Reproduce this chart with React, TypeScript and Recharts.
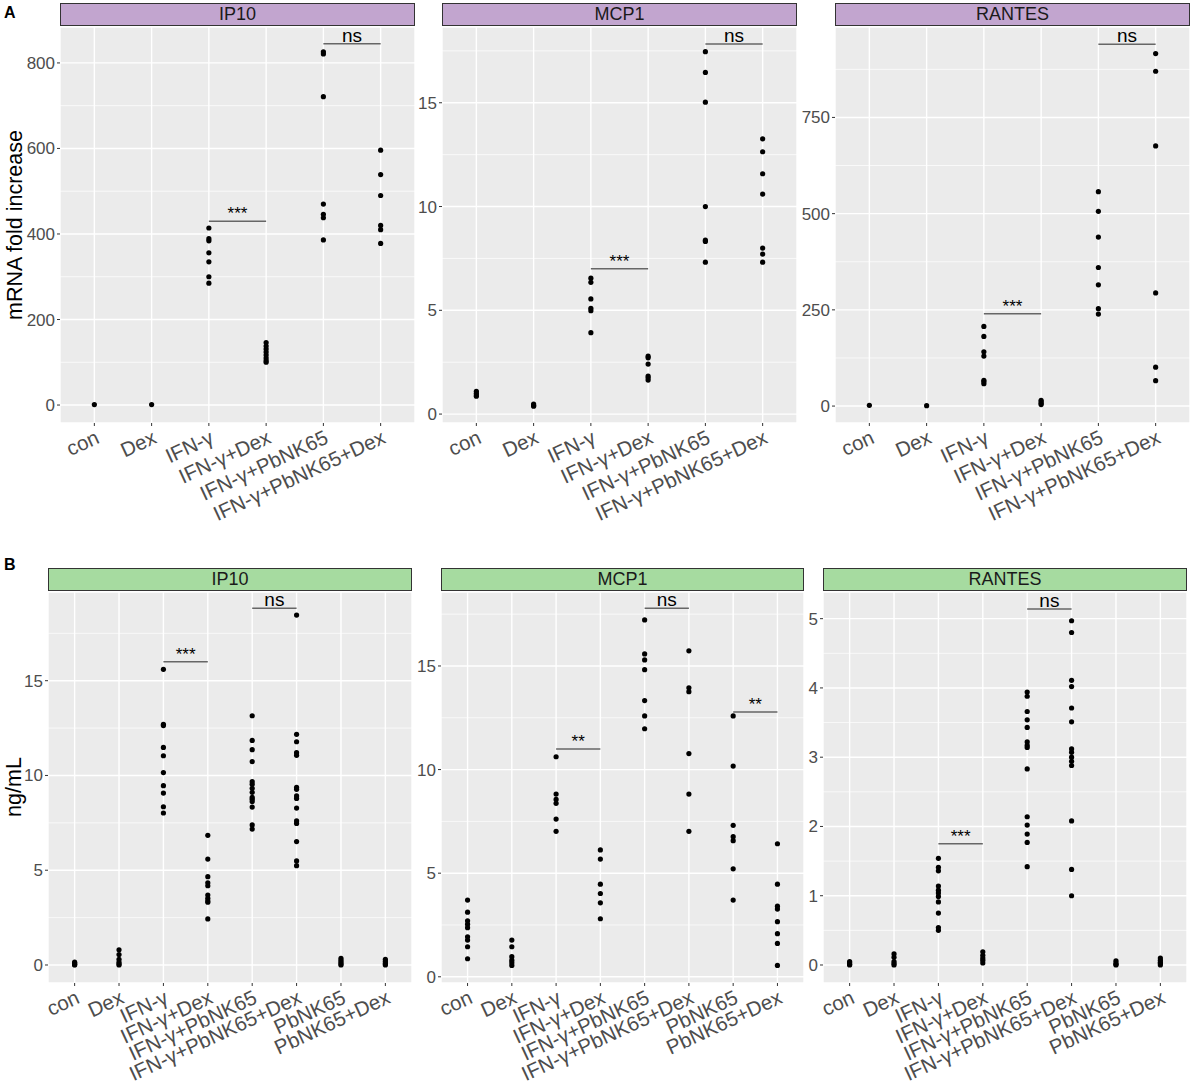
import { ScatterChart, Scatter, XAxis, YAxis, CartesianGrid, ReferenceLine } from 'recharts'

const FONT = '"Liberation Sans", Arial, sans-serif'
const PURPLE = '#C2A5CF'
const GREEN = '#A6DBA0'

// group labels
const catsA = ['con', 'Dex', 'IFN-γ', 'IFN-γ+Dex', 'IFN-γ+PbNK65', 'IFN-γ+PbNK65+Dex']
const catsB = [...catsA, 'PbNK65', 'PbNK65+Dex']

// A: mRNA fold increase, one list per group
const aIp10 = [
    [1],
    [1],
    [414, 389, 384, 356, 335, 300, 285],
    [146, 138, 131, 124, 117, 110, 104, 100],
    [826, 821, 721, 470, 446, 438, 386],
    [596, 539, 490, 420, 410, 378]
]
const aMcp1 = [
    [1.1, 1.0, 0.92, 0.86],
    [0.48, 0.42, 0.38],
    [6.55, 6.35, 5.55, 5.1, 4.98, 3.92],
    [2.79, 2.71, 2.41, 1.83, 1.75, 1.64],
    [17.46, 16.46, 15.03, 10.0, 8.38, 8.32, 7.32],
    [13.26, 12.64, 11.58, 10.6, 8.0, 7.71, 7.32]
]
const aRantes = [
    [2],
    [1],
    [207, 181, 141, 130, 67, 63, 58],
    [15, 11, 7, 4],
    [557, 506, 439, 360, 315, 253, 239],
    [916, 870, 676, 294, 101, 66]
]

// B: ng/mL
const bIp10 = [
    [0.15, 0.1, 0.05, 0.02, 0.0],
    [0.8, 0.55, 0.3, 0.15, 0.05, 0.0],
    [15.6, 12.7, 12.63, 11.48, 11.04, 10.15, 9.46, 9.07, 8.35, 8.02],
    [6.84, 5.59, 4.66, 4.34, 4.18, 3.69, 3.52, 3.39, 3.31, 2.43],
    [13.15, 11.85, 11.36, 10.73, 9.67, 9.53, 9.32, 9.11, 8.84, 8.74, 8.62, 8.33, 7.39, 7.17],
    [18.46, 12.17, 11.78, 11.2, 11.06, 9.37, 9.27, 8.92, 8.79, 8.28, 7.6, 7.47, 6.51, 5.49, 5.24],
    [0.35, 0.25, 0.15, 0.05, 0.0],
    [0.3, 0.2, 0.1, 0.05, 0.0]
]
const bMcp1 = [
    [3.7, 3.12, 2.7, 2.54, 2.37, 1.93, 1.77, 1.45, 0.87],
    [1.77, 1.45, 0.97, 0.8, 0.68, 0.55],
    [10.62, 8.82, 8.56, 8.37, 7.61, 7.02],
    [6.12, 5.68, 4.47, 4.02, 3.57, 2.8],
    [17.22, 15.58, 15.29, 14.82, 13.33, 12.59, 11.97],
    [15.73, 13.95, 13.76, 10.77, 8.82, 7.02],
    [12.59, 10.17, 7.31, 6.76, 6.57, 5.21, 3.7],
    [6.42, 4.47, 3.41, 3.27, 2.66, 2.08, 1.61, 0.55]
]
const bRantes = [
    [0.05, 0.03, 0.01, 0.0],
    [0.16, 0.11, 0.05, 0.02, 0.0],
    [1.54, 1.41, 1.36, 1.14, 1.08, 1.04, 0.99, 0.91, 0.75, 0.54, 0.5],
    [0.19, 0.14, 0.1, 0.07, 0.03],
    [3.94, 3.88, 3.66, 3.54, 3.43, 3.22, 3.17, 3.14, 2.83, 2.14, 2.02, 1.89, 1.77, 1.42],
    [4.97, 4.8, 4.11, 4.02, 3.71, 3.51, 3.12, 3.07, 3.0, 2.94, 2.88, 2.08, 1.38, 1.0],
    [0.06, 0.03, 0.01, 0.0],
    [0.1, 0.07, 0.04, 0.02, 0.0]
]

// significance brackets: [fromGroup, toGroup, y, text]
const aIp10Sig: [number, number, number, string][] = [[2, 3, 430, '***'], [4, 5, 845, 'ns']]
const aMcp1Sig: [number, number, number, string][] = [[2, 3, 7.0, '***'], [4, 5, 17.83, 'ns']]
const aRantesSig: [number, number, number, string][] = [[2, 3, 240, '***'], [4, 5, 940, 'ns']]
const bIp10Sig: [number, number, number, string][] = [[2, 3, 16.0, '***'], [4, 5, 18.82, 'ns']]
const bMcp1Sig: [number, number, number, string][] = [[2, 3, 10.99, '**'], [4, 5, 17.79, 'ns'], [6, 7, 12.78, '**']]
const bRantesSig: [number, number, number, string][] = [[2, 3, 1.75, '***'], [4, 5, 5.14, 'ns']]

interface PanelProps {
    title: string
    stripColor: string
    cats: string[]
    groups: number[][]
    sigs: [number, number, number, string][]
    domain: [number, number]
    ticks: number[]
    minor: number[]
    plotLeft: number
    plotTop: number
    plotW: number
    plotH: number
    yW: number
}

const AngledTick = (props: any) => {
    const { x, y, payload, cats } = props
    return (
        <text
            x={x}
            y={y + 1}
            dy="0.72em"
            textAnchor="end"
            transform={`rotate(-25 ${x} ${y + 1})`}
            fill="#4D4D4D"
            fontSize={20.5}
            fontFamily={FONT}
        >
            {cats[payload.value]}
        </text>
    )
}

const TOP_PAD = 12 // room above the plot so the 'ns' text is not clipped

function Panel(p: PanelProps) {
    const points = p.groups.flatMap((vals, i) => vals.map((v) => ({ x: i, y: v })))
    const xTicks = p.cats.map((_, i) => i)
    const xH = 115
    return (
        <>
            <div style={{ position: 'absolute', left: p.plotLeft - p.yW, top: p.plotTop - TOP_PAD }}>
                <ScatterChart
                    width={p.yW + p.plotW}
                    height={p.plotH + xH + TOP_PAD}
                    margin={{ top: TOP_PAD, right: 0, bottom: 0, left: 0 }}
                >
                    <CartesianGrid fill="#EBEBEB" fillOpacity={1} stroke="#FFFFFF" strokeWidth={1.4} />
                    <XAxis
                        type="number"
                        dataKey="x"
                        domain={[-0.6, p.cats.length - 0.4]}
                        ticks={xTicks}
                        interval={0}
                        allowDataOverflow
                        height={xH}
                        axisLine={false}
                        tickLine={{ stroke: '#333' }}
                        tickSize={3}
                        tickMargin={2}
                        tick={(t: any) => <AngledTick {...t} cats={p.cats} />}
                    />
                    <YAxis
                        type="number"
                        dataKey="y"
                        domain={p.domain}
                        ticks={p.ticks}
                        interval={0}
                        allowDataOverflow
                        width={p.yW}
                        axisLine={false}
                        tickLine={{ stroke: '#333' }}
                        tickSize={3}
                        tickMargin={2}
                        tick={{ fill: '#4D4D4D', fontSize: 17, fontFamily: FONT }}
                    />
                    {p.minor.map((m) => (
                        <ReferenceLine key={`m${m}`} y={m} stroke="#FFFFFF" strokeWidth={0.7} />
                    ))}
                    {p.sigs.map(([a, b, y, txt]) => (
                        <ReferenceLine
                            key={`s${a}`}
                            segment={[{ x: a, y }, { x: b, y }]}
                            stroke="#666666"
                            strokeWidth={1.5}
                            label={{
                                value: txt,
                                position: 'top',
                                offset: 2,
                                fill: '#000',
                                fontSize: txt === 'ns' ? 19 : 17,
                                fontFamily: FONT
                            }}
                        />
                    ))}
                    <Scatter
                        data={points}
                        isAnimationActive={false}
                        shape={(s: any) => <circle cx={s.cx} cy={s.cy} r={2.6} fill="#000" />}
                    />
                </ScatterChart>
            </div>
            <div
                style={{
                    position: 'absolute',
                    left: p.plotLeft,
                    top: p.plotTop - 24,
                    width: p.plotW,
                    height: 23,
                    boxSizing: 'border-box',
                    background: p.stripColor,
                    border: '1px solid #333',
                    textAlign: 'center',
                    fontFamily: FONT,
                    fontSize: 18,
                    lineHeight: '21px',
                    color: '#1A1A1A'
                }}
            >
                {p.title}
            </div>
        </>
    )
}

function AxisTitle({ text, cx, cy }: { text: string; cx: number; cy: number }) {
    return (
        <div
            style={{
                position: 'absolute',
                left: cx,
                top: cy,
                transform: 'translate(-50%, -50%) rotate(-90deg)',
                whiteSpace: 'nowrap',
                fontFamily: FONT,
                fontSize: 21.5,
                lineHeight: '24px',
                color: '#000'
            }}
        >
            {text}
        </div>
    )
}

function PanelLetter({ text, x, y }: { text: string; x: number; y: number }) {
    return (
        <div style={{ position: 'absolute', left: x, top: y, fontFamily: FONT, fontWeight: 'bold', fontSize: 16, lineHeight: '18px' }}>
            {text}
        </div>
    )
}

export default function App() {
    return (
        <div style={{ position: 'absolute', left: 0, top: 0, width: 1192, height: 1091, background: '#fff' }}>
            <PanelLetter text="A" x={4} y={4} />
            <PanelLetter text="B" x={4} y={556} />
            <AxisTitle text="mRNA fold increase" cx={15} cy={225} />
            <AxisTitle text="ng/mL" cx={14} cy={787} />

            <Panel title="IP10" stripColor={PURPLE} cats={catsA} groups={aIp10} sigs={aIp10Sig}
                domain={[-42, 884]} ticks={[0, 200, 400, 600, 800]} minor={[100, 300, 500, 700]}
                plotLeft={60} plotTop={27} plotW={355} plotH={396} yW={60} />
            <Panel title="MCP1" stripColor={PURPLE} cats={catsA} groups={aMcp1} sigs={aMcp1Sig}
                domain={[-0.43, 18.65]} ticks={[0, 5, 10, 15]} minor={[2.5, 7.5, 12.5, 17.5]}
                plotLeft={442} plotTop={27} plotW={355} plotH={396} yW={40} />
            <Panel title="RANTES" stripColor={PURPLE} cats={catsA} groups={aRantes} sigs={aRantesSig}
                domain={[-44, 985]} ticks={[0, 250, 500, 750]} minor={[125, 375, 625, 875]}
                plotLeft={835} plotTop={27} plotW={355} plotH={396} yW={45} />

            <Panel title="IP10" stripColor={GREEN} cats={catsB} groups={bIp10} sigs={bIp10Sig}
                domain={[-0.95, 19.68]} ticks={[0, 5, 10, 15]} minor={[2.5, 7.5, 12.5, 17.5]}
                plotLeft={48} plotTop={592} plotW={364} plotH={391} yW={48} />
            <Panel title="MCP1" stripColor={GREEN} cats={catsB} groups={bMcp1} sigs={bMcp1Sig}
                domain={[-0.3, 18.57]} ticks={[0, 5, 10, 15]} minor={[2.5, 7.5, 12.5, 17.5]}
                plotLeft={441} plotTop={592} plotW={363} plotH={391} yW={40} />
            <Panel title="RANTES" stripColor={GREEN} cats={catsB} groups={bRantes} sigs={bRantesSig}
                domain={[-0.26, 5.385]} ticks={[0, 1, 2, 3, 4, 5]} minor={[0.5, 1.5, 2.5, 3.5, 4.5]}
                plotLeft={823} plotTop={592} plotW={364} plotH={391} yW={35} />
        </div>
    )
}
